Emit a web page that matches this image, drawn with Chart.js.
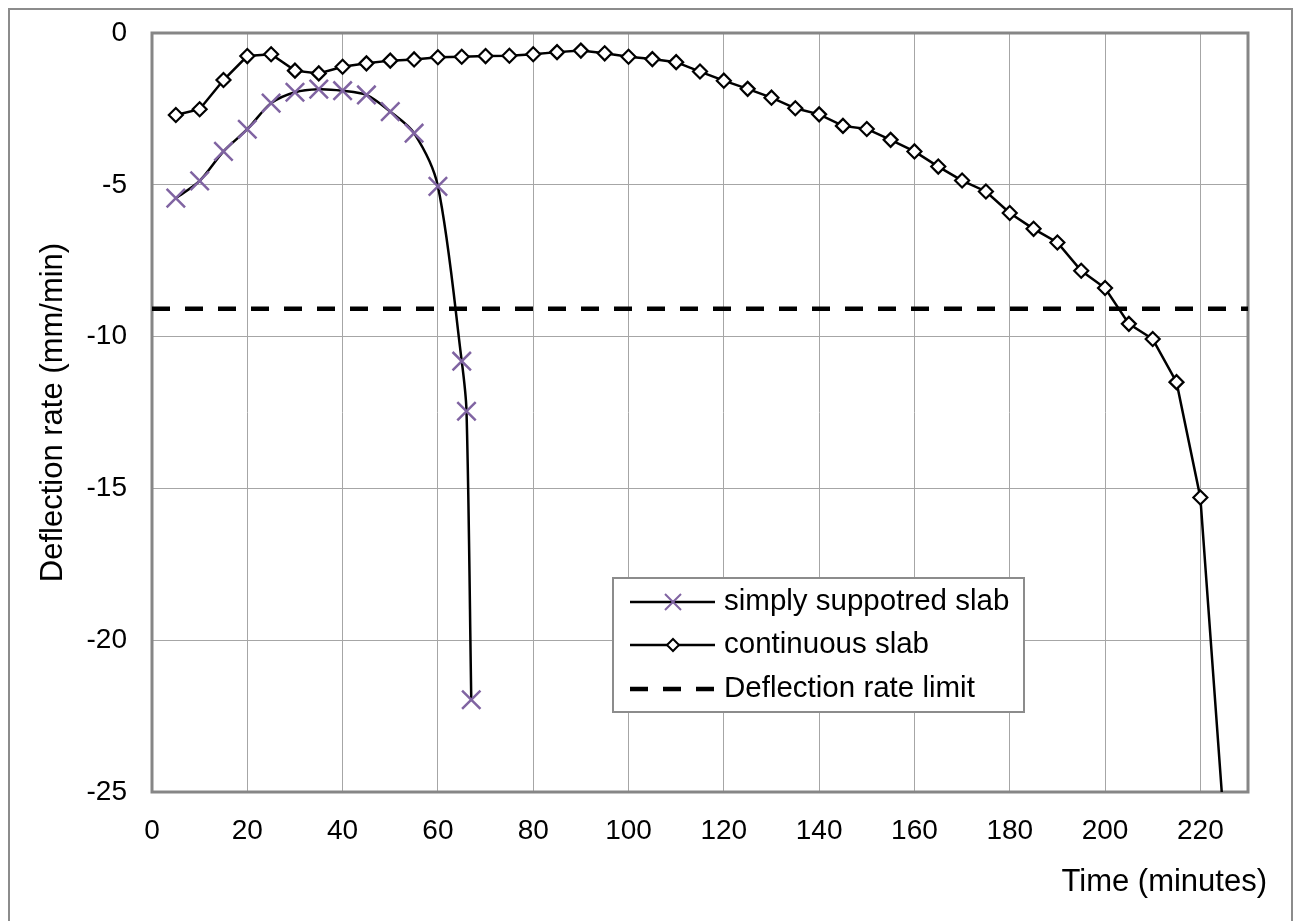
<!DOCTYPE html>
<html>
<head>
<meta charset="utf-8">
<script src="https://cdn.jsdelivr.net/npm/chart.js@4.4.0/dist/chart.umd.min.js"></script>
<style>
  html, body { margin: 0; padding: 0; background: #fff; }
  #wrap { width: 1294px; height: 921px; }
</style>
</head>
<body>
<div id="wrap"><canvas id="rateChart" width="1294" height="921"></canvas></div>
<script>
// simply supported slab
const ssTime = [5, 10, 15, 20, 25, 30, 35, 40, 45, 50, 55, 60, 65, 66, 67];
const ssRate = [-5.44, -4.87, -3.90, -3.17, -2.31, -1.95, -1.85, -1.90, -2.04, -2.59, -3.30, -5.05, -10.81, -12.46, -21.96];

// continuous slab
const csTime = [5, 10, 15, 20, 25, 30, 35, 40, 45, 50, 55, 60, 65, 70, 75, 80, 85, 90, 95, 100,
  105, 110, 115, 120, 125, 130, 135, 140, 145, 150, 155, 160, 165, 170, 175, 180, 185, 190, 195, 200,
  205, 210, 215, 220, 225];
const csRate = [-2.70, -2.51, -1.55, -0.76, -0.70, -1.24, -1.33, -1.11, -1.00, -0.91, -0.87, -0.80, -0.78, -0.76, -0.75, -0.70, -0.63, -0.58, -0.67, -0.78,
  -0.86, -0.96, -1.27, -1.57, -1.84, -2.13, -2.48, -2.68, -3.06, -3.16, -3.52, -3.90, -4.40, -4.86, -5.22, -5.93, -6.45, -6.90, -7.83, -8.40,
  -9.58, -10.08, -11.50, -15.30, -26.1];

// limit
const limitTime = [0, 230];
const limitRate = [-9.08, -9.08];

const xTicks = [0, 20, 40, 60, 80, 100, 120, 140, 160, 180, 200, 220];
const yTicks = [-25, -20, -15, -10, -5, 0];

const seriesLabels = ["simply suppotred slab", "continuous slab", "Deflection rate limit"];
const xTitle = "Time (minutes)";
const yTitle = "Deflection rate (mm/min)";

const FONT = "'Liberation Sans', Arial, sans-serif";
const purple = "#8064a2";

function toPoints(xs, ys) {
  return xs.map((x, i) => ({ x: x, y: ys[i] }));
}

function drawMarker(ctx, style, x, y, r, color, fill) {
  ctx.save();
  ctx.strokeStyle = color;
  ctx.lineWidth = 2;
  ctx.beginPath();
  if (style === "crossRot") {
    ctx.moveTo(x - r, y - r); ctx.lineTo(x + r, y + r);
    ctx.moveTo(x + r, y - r); ctx.lineTo(x - r, y + r);
    ctx.stroke();
  } else if (style === "rectRot") {
    ctx.moveTo(x, y - r); ctx.lineTo(x + r, y); ctx.lineTo(x, y + r); ctx.lineTo(x - r, y);
    ctx.closePath();
    ctx.fillStyle = fill;
    ctx.fill();
    ctx.stroke();
  }
  ctx.restore();
}

const framePlugin = {
  id: "frame",
  beforeDraw(chart) {
    const ctx = chart.ctx;
    ctx.save();
    ctx.fillStyle = "#fff";
    ctx.fillRect(0, 0, chart.width, chart.height);
    ctx.strokeStyle = "#8c8c8c";
    ctx.lineWidth = 2;
    ctx.strokeRect(9, 9, 1283, 940);
    ctx.restore();
  },
  beforeDatasetsDraw(chart) {
    const a = chart.chartArea;
    const ctx = chart.ctx;
    ctx.save();
    ctx.strokeStyle = "#868686";
    ctx.lineWidth = 3;
    ctx.strokeRect(a.left, a.top, a.right - a.left, a.bottom - a.top);
    ctx.restore();
  },
  afterDraw(chart) {
    const ctx = chart.ctx;
    const a = chart.chartArea;
    ctx.save();
    // x axis title
    ctx.font = "31px " + FONT;
    ctx.fillStyle = "#000";
    ctx.textAlign = "right";
    ctx.textBaseline = "middle";
    ctx.fillText(xTitle, a.right + 19, 882);

    // legend
    const bx = 613, by = 578, bw = 411, bh = 134;
    ctx.fillStyle = "#fff";
    ctx.fillRect(bx, by, bw, bh);
    ctx.strokeStyle = "#8c8c8c";
    ctx.lineWidth = 2;
    ctx.strokeRect(bx, by, bw, bh);
    const rows = [602, 645, 689];
    chart.data.datasets.forEach((ds, i) => {
      const y = rows[i];
      ctx.save();
      ctx.strokeStyle = ds.borderColor;
      ctx.lineWidth = ds.borderWidth;
      ctx.setLineDash(ds.borderDash || []);
      ctx.beginPath();
      ctx.moveTo(630, y);
      ctx.lineTo(715, y);
      ctx.stroke();
      ctx.restore();
      if (ds.pointStyle === "crossRot") drawMarker(ctx, "crossRot", 673, y, 8, ds.pointBorderColor);
      if (ds.pointStyle === "rectRot") drawMarker(ctx, "rectRot", 673, y, 6, ds.pointBorderColor, "#fff");
      ctx.fillStyle = "#000";
      ctx.textAlign = "left";
      ctx.textBaseline = "middle";
      ctx.font = "29.5px " + FONT;
      ctx.fillText(ds.label, 724, y);
    });
    ctx.restore();
  }
};

new Chart(document.getElementById("rateChart"), {
  type: "scatter",
  data: {
    datasets: [
      {
        label: seriesLabels[0],
        data: toPoints(ssTime, ssRate),
        showLine: true,
        borderColor: "#000",
        borderWidth: 2.5,
        tension: 0.3,
        pointStyle: "crossRot",
        pointRadius: 13,
        pointBorderColor: purple,
        pointBackgroundColor: purple,
        pointBorderWidth: 2.5
      },
      {
        label: seriesLabels[1],
        data: toPoints(csTime, csRate),
        showLine: true,
        borderColor: "#000",
        borderWidth: 2.5,
        tension: 0,
        pointStyle: "rectRot",
        pointRadius: 7,
        pointBorderColor: "#000",
        pointBackgroundColor: "#fff",
        pointBorderWidth: 2.2
      },
      {
        label: seriesLabels[2],
        data: toPoints(limitTime, limitRate),
        showLine: true,
        borderColor: "#000",
        borderWidth: 4.5,
        borderDash: [18, 15],
        pointRadius: 0
      }
    ]
  },
  options: {
    responsive: false,
    animation: false,
    layout: { padding: { left: 0, top: 33, right: 46, bottom: 0 } },
    plugins: {
      legend: { display: false },
      tooltip: { enabled: false }
    },
    scales: {
      x: {
        type: "linear",
        min: 0,
        max: 230,
        afterFit(scale) {
          scale.height = 129;
          scale.paddingLeft = 0;
          scale.paddingRight = 0;
        },
        afterBuildTicks(scale) { scale.ticks = xTicks.map((v) => ({ value: v })); },
        ticks: {
          padding: 22,
          color: "#000",
          font: { family: FONT, size: 28 }
        },
        grid: { color: "#a6a6a6", lineWidth: 1, drawTicks: false },
        border: { display: false }
      },
      y: {
        type: "linear",
        min: -25,
        max: 0,
        afterFit(scale) {
          scale.width = 152;
          scale.paddingTop = 0;
          scale.paddingBottom = 0;
        },
        afterBuildTicks(scale) { scale.ticks = yTicks.map((v) => ({ value: v })); },
        ticks: {
          padding: 25,
          color: "#000",
          font: { family: FONT, size: 28 }
        },
        grid: { color: "#a6a6a6", lineWidth: 1, drawTicks: false },
        border: { display: false },
        title: {
          display: true,
          text: yTitle,
          color: "#000",
          font: { family: FONT, size: 31 },
          padding: { top: 35, bottom: 0 }
        }
      }
    }
  },
  plugins: [framePlugin]
});
</script>
</body>
</html>
